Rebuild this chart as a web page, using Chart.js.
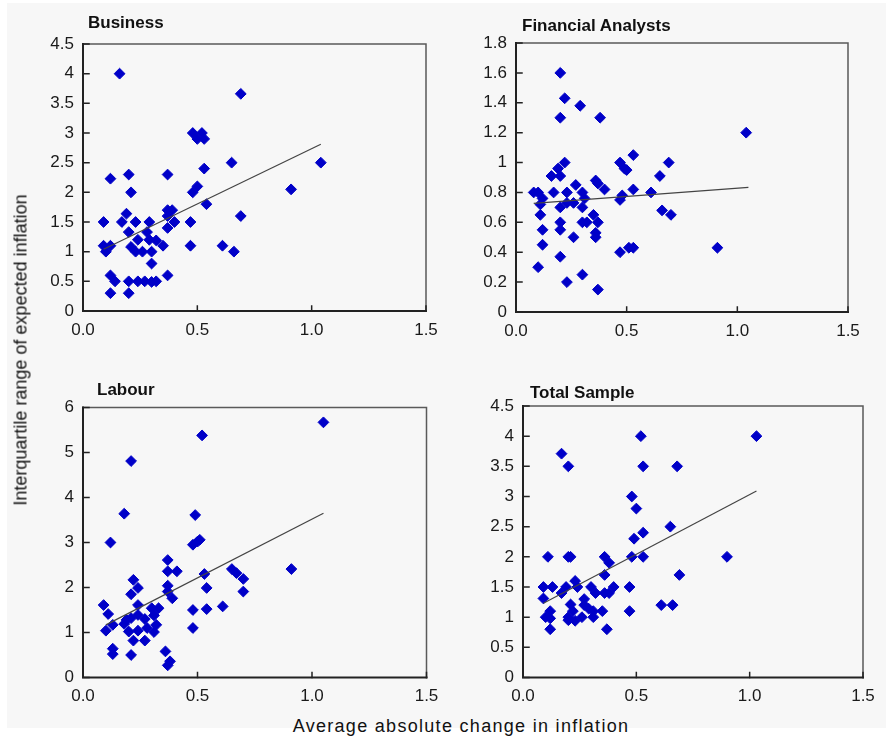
<!DOCTYPE html>
<html>
<head>
<meta charset="utf-8">
<script src="https://cdn.jsdelivr.net/npm/chart.js@4/dist/chart.umd.min.js"></script>
<style>
  html, body { margin: 0; padding: 0; background: #ffffff; }
  #page { position: absolute; left: 7px; top: 3px; width: 879px; height: 725px; background: #f7f7f7; }
  .panel { position: absolute; }
  .ptitle { position: absolute; font-family: "Liberation Sans", Arial, sans-serif; font-weight: bold; font-size: 17px; color: #111; white-space: nowrap; }
  #ytitle { position: absolute; left: 21px; top: 350px; transform: translate(-50%, -50%) rotate(-90deg); font-family: "Liberation Sans", Arial, sans-serif; font-size: 18px; color: #111; white-space: nowrap; }
  #xtitle { position: absolute; left: 461px; top: 726px; transform: translate(-50%, -50%); font-family: "Liberation Sans", Arial, sans-serif; font-size: 18px; letter-spacing: 1.3px; color: #111; white-space: nowrap; }
</style>
</head>
<body>
<div id="page"></div>
<canvas id="c1" class="panel" width="420" height="315" style="left:30px;top:30px"></canvas>
<canvas id="c2" class="panel" width="416" height="315" style="left:470px;top:30px"></canvas>
<canvas id="c3" class="panel" width="420" height="315" style="left:30px;top:395px"></canvas>
<canvas id="c4" class="panel" width="416" height="315" style="left:470px;top:395px"></canvas>
<div class="ptitle" style="left:88px;top:13px">Business</div>
<div class="ptitle" style="left:522px;top:16px">Financial Analysts</div>
<div class="ptitle" style="left:97px;top:380px">Labour</div>
<div class="ptitle" style="left:530px;top:383px">Total Sample</div>
<div id="ytitle">Interquartile range of expected inflation</div>
<div id="xtitle">Average absolute change in inflation</div>
<script>
// ---- Data -------------------------------------------------------------
const xTickLabels = ['0.0', '0.5', '1.0', '1.5'];

const businessX = [0.16,0.69,0.48,0.52,0.50,0.53,0.65,1.04,0.53,0.12,0.20,0.37,0.50,0.48,0.21,0.91,0.54,0.69,0.19,0.09,
  0.17,0.23,0.29,0.37,0.39,0.37,0.40,0.37,0.47,0.20,0.28,0.24,0.29,0.32,0.35,0.09,0.12,0.10,0.21,0.23,
  0.26,0.30,0.47,0.61,0.66,0.30,0.12,0.14,0.20,0.24,0.27,0.30,0.32,0.37,0.12,0.20];
const businessY = [4.0,3.66,3.0,3.0,2.9,2.9,2.5,2.5,2.4,2.23,2.3,2.3,2.1,2.0,2.0,2.05,1.8,1.6,1.64,1.5,
  1.5,1.5,1.5,1.7,1.7,1.6,1.5,1.4,1.5,1.33,1.33,1.2,1.2,1.19,1.1,1.1,1.1,1.0,1.08,1.0,
  1.0,1.0,1.1,1.1,1.0,0.8,0.6,0.5,0.5,0.5,0.5,0.49,0.5,0.6,0.3,0.3];
const businessTrendX = [0.09, 1.04];
const businessTrendY = [1.04, 2.81];
const businessYTicks = ['0','0.5','1','1.5','2','2.5','3','3.5','4','4.5'];

const analystsX = [0.20,0.22,0.29,0.20,0.38,1.04,0.53,0.22,0.47,0.69,0.19,0.49,0.50,0.16,0.20,0.65,0.27,0.36,0.37,0.40,
  0.53,0.08,0.10,0.17,0.23,0.30,0.61,0.12,0.31,0.48,0.47,0.11,0.20,0.23,0.26,0.30,0.66,0.70,0.11,0.35,
  0.30,0.32,0.20,0.37,0.12,0.20,0.36,0.36,0.26,0.12,0.51,0.53,0.91,0.47,0.20,0.10,0.23,0.30,0.37];
const analystsY = [1.6,1.43,1.38,1.3,1.3,1.2,1.05,1.0,1.0,1.0,0.96,0.96,0.95,0.91,0.91,0.91,0.85,0.88,0.86,0.82,
  0.82,0.8,0.8,0.8,0.8,0.8,0.8,0.76,0.76,0.78,0.75,0.72,0.7,0.73,0.73,0.7,0.68,0.65,0.65,0.65,
  0.6,0.6,0.6,0.6,0.55,0.55,0.53,0.5,0.5,0.45,0.43,0.43,0.43,0.4,0.37,0.3,0.2,0.25,0.15];
const analystsTrendX = [0.08, 1.05];
const analystsTrendY = [0.727, 0.834];
const analystsYTicks = ['0','0.2','0.4','0.6','0.8','1','1.2','1.4','1.6','1.8'];

const labourX = [1.05,0.52,0.21,0.18,0.49,0.12,0.48,0.51,0.50,0.37,0.37,0.41,0.53,0.65,0.67,0.91,0.70,0.22,0.24,0.37,
  0.54,0.21,0.37,0.70,0.39,0.09,0.24,0.30,0.33,0.48,0.54,0.61,0.11,0.18,0.21,0.24,0.27,0.31,0.32,0.13,
  0.10,0.20,0.24,0.28,0.31,0.22,0.27,0.48,0.13,0.13,0.21,0.36,0.38,0.37,0.19];
const labourY = [5.67,5.38,4.81,3.64,3.61,3.0,2.95,3.06,3.02,2.61,2.36,2.36,2.3,2.41,2.32,2.41,2.19,2.17,1.99,2.04,
  1.99,1.85,1.91,1.91,1.76,1.61,1.61,1.54,1.54,1.5,1.52,1.58,1.41,1.19,1.32,1.39,1.3,1.38,1.17,1.17,
  1.04,1.02,1.04,1.1,1.01,0.82,0.82,1.1,0.64,0.52,0.5,0.58,0.36,0.27,1.28];
const labourTrendX = [0.10, 1.05];
const labourTrendY = [1.17, 3.65];
const labourYTicks = ['0','1','2','3','4','5','6'];

const totalX = [0.52,1.03,0.17,0.20,0.53,0.68,0.48,0.50,0.65,0.53,0.49,0.11,0.20,0.21,0.36,0.48,0.53,0.90,0.38,0.69,
  0.36,0.23,0.09,0.13,0.19,0.24,0.30,0.40,0.47,0.17,0.32,0.36,0.38,0.09,0.27,0.21,0.27,0.29,0.12,0.22,
  0.31,0.35,0.47,0.61,0.66,0.10,0.12,0.20,0.23,0.26,0.31,0.12,0.37,0.20];
const totalY = [4.0,4.0,3.71,3.5,3.5,3.5,3.0,2.8,2.5,2.4,2.3,2.0,2.0,2.0,2.0,2.0,2.0,2.0,1.9,1.7,
  1.7,1.6,1.5,1.5,1.5,1.5,1.5,1.5,1.5,1.4,1.4,1.4,1.4,1.31,1.3,1.21,1.2,1.14,1.1,1.1,
  1.1,1.1,1.1,1.2,1.2,1.0,0.98,0.95,0.94,1.0,1.0,0.8,0.8,1.0];
const totalTrendX = [0.09, 1.03];
const totalTrendY = [1.23, 3.09];
const totalYTicks = ['0','0.5','1','1.5','2','2.5','3','3.5','4','4.5'];

// ---- Drawing -----------------------------------------------------------
const FONT = '"Liberation Sans", Arial, sans-serif';
const MARKER = '#0000c8';

// Plot frame with inward-pointing tick marks
const framePlugin = {
  id: 'frame',
  beforeDatasetsDraw(chart) {
    const { ctx, chartArea: a, scales } = chart;
    const xs = scales.x, ys = scales.y;
    ctx.save();
    ctx.lineCap = 'square';
    ctx.strokeStyle = '#5a5a5a';
    ctx.lineWidth = 1.5;
    ctx.beginPath();
    ctx.moveTo(a.left, a.top);
    ctx.lineTo(a.right, a.top);
    ctx.lineTo(a.right, a.bottom);
    ctx.stroke();
    ctx.strokeStyle = '#222';
    ctx.lineWidth = 2;
    ctx.beginPath();
    ctx.moveTo(a.left, a.top);
    ctx.lineTo(a.left, a.bottom);
    ctx.lineTo(a.right, a.bottom);
    ctx.stroke();
    ctx.lineWidth = 1.5;
    ctx.beginPath();
    ys.ticks.forEach(t => {
      const py = ys.getPixelForValue(t.value);
      ctx.moveTo(a.left, py);
      ctx.lineTo(a.left + 6, py);
    });
    xs.ticks.forEach(t => {
      const px = xs.getPixelForValue(t.value);
      ctx.moveTo(px, a.bottom);
      ctx.lineTo(px, a.bottom - 5);
    });
    ctx.stroke();
    ctx.restore();
  }
};

function toPoints(xv, yv) {
  return xv.map((x, i) => ({ x: x, y: yv[i] }));
}

// Fixed axis box sizes, no extra room reserved for overhanging labels
function fixBox(size, horizontal) {
  return s => {
    if (horizontal) s.height = size; else s.width = size;
    s.paddingTop = 0; s.paddingBottom = 0; s.paddingLeft = 0; s.paddingRight = 0;
  };
}

function makePanel(id, xs, ys, tx, ty, yMax, yStep, yLabels, geom) {
  new Chart(document.getElementById(id), {
    type: 'scatter',
    data: {
      datasets: [
        {
          data: toPoints(tx, ty),
          showLine: true,
          borderColor: '#444',
          borderWidth: 1.2,
          pointRadius: 0,
          fill: false
        },
        {
          data: toPoints(xs, ys),
          pointStyle: 'rectRot',
          pointRadius: 5.4,
          backgroundColor: MARKER,
          borderColor: MARKER,
          borderWidth: 1
        }
      ]
    },
    options: {
      responsive: false,
      animation: false,
      events: [],
      layout: { padding: { left: 0, bottom: 0, top: geom.top, right: geom.right } },
      plugins: { legend: { display: false }, tooltip: { enabled: false } },
      scales: {
        x: {
          type: 'linear',
          min: 0, max: 1.5,
          grid: { display: false, drawTicks: false },
          border: { display: false },
          afterFit: fixBox(geom.xh, true),
          ticks: {
            stepSize: 0.5,
            padding: 9,
            color: '#1a1a1a',
            font: { family: FONT, size: 17 },
            callback: (v, i) => xTickLabels[i]
          }
        },
        y: {
          type: 'linear',
          min: 0, max: yMax,
          grid: { display: false, drawTicks: false },
          border: { display: false },
          afterFit: fixBox(geom.yw, false),
          ticks: {
            stepSize: yStep,
            padding: 9,
            color: '#1a1a1a',
            font: { family: FONT, size: 17 },
            callback: (v, i) => yLabels[i]
          }
        }
      }
    },
    plugins: [framePlugin]
  });
}

makePanel('c1', businessX, businessY, businessTrendX, businessTrendY, 4.5, 0.5, businessYTicks,
  { top: 14, right: 24, xh: 34, yw: 53 });
makePanel('c2', analystsX, analystsY, analystsTrendX, analystsTrendY, 1.8, 0.2, analystsYTicks,
  { top: 13, right: 38, xh: 33, yw: 46 });
makePanel('c3', labourX, labourY, labourTrendX, labourTrendY, 6, 1, labourYTicks,
  { top: 12.5, right: 23.5, xh: 32.5, yw: 53 });
makePanel('c4', totalX, totalY, totalTrendX, totalTrendY, 4.5, 0.5, totalYTicks,
  { top: 11, right: 23, xh: 32.5, yw: 53 });
</script>
</body>
</html>
